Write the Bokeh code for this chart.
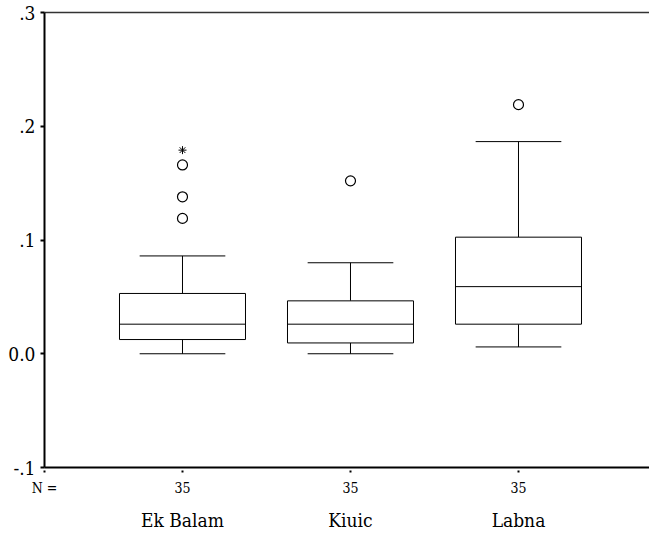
from bokeh.plotting import figure
from bokeh.models import Range1d, FixedTicker, LinearAxis
from bokeh.embed import file_html
from bokeh.resources import INLINE

# ---- data ----
categories = ["Ek Balam", "Kiuic", "Labna"]
counts = [35, 35, 35]
lower = [0.0, 0.0, 0.006]
q1 = [0.0125, 0.0095, 0.026]
median = [0.026, 0.026, 0.059]
q3 = [0.053, 0.0465, 0.1025]
upper = [0.086, 0.080, 0.1865]
outlier_group = [0, 0, 0, 1, 2]
outlier_values = [0.119, 0.138, 0.166, 0.152, 0.219]
extreme_group = [0]
extreme_values = [0.179]
y_ticks = [-0.1, 0.0, 0.1, 0.2, 0.3]
y_tick_labels = ["-.1", "0.0", ".1", ".2", ".3"]
n_label = "N ="

FONT = "DejaVu Serif Condensed, DejaVu Serif"
xs = [i + 1 for i in range(len(categories))]
BOX_HALF = 0.375
CAP_HALF = 0.255
X0, X1 = 0.1786, 3.7798

p = figure(width=649, height=533,
           x_range=Range1d(X0, X1), y_range=Range1d(-0.1, 0.3),
           output_backend="svg", toolbar_location=None,
           min_border_left=44, min_border_right=0,
           min_border_top=12, min_border_bottom=65)
p.outline_line_color = None
p.xgrid.grid_line_color = None
p.ygrid.grid_line_color = None
p.background_fill_color = "white"
p.border_fill_color = "white"

# y axis
p.yaxis.ticker = FixedTicker(ticks=y_ticks)
p.yaxis.major_label_overrides = {t: l for t, l in zip(y_ticks, y_tick_labels)}
p.yaxis.major_tick_out = 4
p.yaxis.major_tick_in = 0
p.yaxis.minor_tick_line_color = None
p.yaxis.major_label_text_font = FONT
p.yaxis.major_label_text_font_size = "19px"
p.yaxis.major_label_text_color = "black"
p.yaxis.major_label_standoff = 5
p.yaxis.axis_line_width = 2
p.yaxis.major_tick_line_width = 2
p.yaxis.axis_line_color = "black"
p.yaxis.major_tick_line_color = "black"

# x axis: ticks, "N =" and counts
p.xaxis.ticker = FixedTicker(ticks=[X0] + xs)
overrides = {x: str(n) for x, n in zip(xs, counts)}
overrides[X0] = n_label
p.xaxis.major_label_overrides = overrides
p.xaxis.major_tick_in = -3
p.xaxis.major_tick_out = 5
p.xaxis.minor_tick_line_color = None
p.xaxis.major_label_text_font = FONT
p.xaxis.major_label_text_font_size = "14px"
p.xaxis.major_label_text_color = "black"
p.xaxis.major_label_standoff = 7
p.xaxis.axis_line_width = 2
p.xaxis.major_tick_line_width = 2
p.xaxis.axis_line_color = "black"
p.xaxis.major_tick_line_color = "black"

# category names
cat_axis = LinearAxis(ticker=FixedTicker(ticks=xs),
                      major_label_overrides={x: c for x, c in zip(xs, categories)},
                      major_tick_out=0, major_tick_in=0, minor_tick_out=0, minor_tick_in=0,
                      axis_line_color=None, major_tick_line_color=None,
                      minor_tick_line_color=None,
                      major_label_text_font=FONT, major_label_text_font_size="19px",
                      major_label_text_color="black", major_label_standoff=10)
p.add_layout(cat_axis, "below")

# top line
top = LinearAxis(ticker=FixedTicker(ticks=[]),
                 major_tick_out=0, major_tick_in=0, minor_tick_out=0, minor_tick_in=0,
                 axis_line_width=1.5, axis_line_color="#333333")
p.add_layout(top, "above")

# whiskers
p.segment(x0=xs, y0=q3, x1=xs, y1=upper, line_color="black", line_width=1)
p.segment(x0=xs, y0=q1, x1=xs, y1=lower, line_color="black", line_width=1)
p.segment(x0=[x - CAP_HALF for x in xs], y0=upper, x1=[x + CAP_HALF for x in xs], y1=upper,
          line_color="black", line_width=1)
p.segment(x0=[x - CAP_HALF for x in xs], y0=lower, x1=[x + CAP_HALF for x in xs], y1=lower,
          line_color="black", line_width=1)

# boxes
p.quad(left=[x - BOX_HALF for x in xs], right=[x + BOX_HALF for x in xs],
       bottom=q1, top=q3, fill_color="white", line_color="black", line_width=1)
p.segment(x0=[x - BOX_HALF for x in xs], y0=median, x1=[x + BOX_HALF for x in xs], y1=median,
          line_color="black", line_width=1)

# outliers
p.scatter(x=[xs[g] for g in outlier_group], y=outlier_values, marker="circle", size=10,
          fill_color="white", line_color="black", line_width=1.2)
p.scatter(x=[xs[g] for g in extreme_group], y=extreme_values, marker="asterisk", size=8,
          line_color="black", line_width=1)

open("out.html", "w").write(file_html(p, INLINE))
